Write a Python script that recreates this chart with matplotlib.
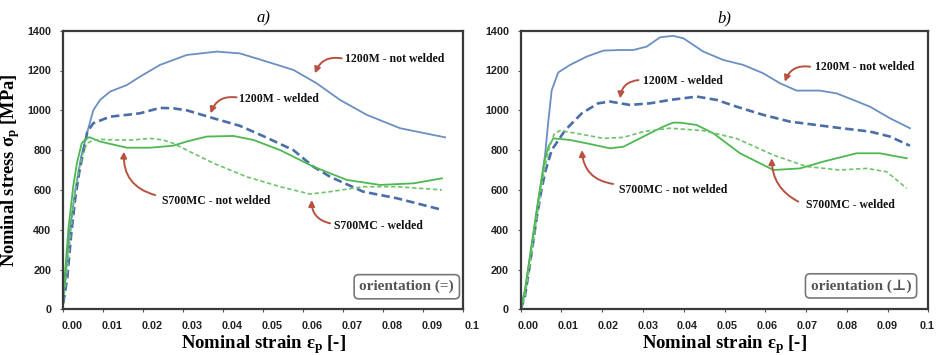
import matplotlib
matplotlib.use("Agg")
import matplotlib.pyplot as plt
from matplotlib.transforms import ScaledTranslation

plt.rcParams['mathtext.fontset'] = 'custom'
plt.rcParams['mathtext.rm'] = 'Liberation Serif:bold'
plt.rcParams['mathtext.bf'] = 'Liberation Serif:bold'
plt.rcParams['mathtext.it'] = 'Liberation Serif:bold:italic'
plt.rcParams['lines.solid_joinstyle'] = 'round'
plt.rcParams['lines.dash_joinstyle'] = 'round'

# ---------------- data: panel a) orientation (=) ----------------
a_1200_nw_x = [0, 0.0005, 0.0015, 0.003, 0.0045, 0.006, 0.0075, 0.0092, 0.0117, 0.0159, 0.0192,
               0.0242, 0.0309, 0.0384, 0.0442, 0.0509, 0.0576, 0.0634, 0.0693, 0.076, 0.0843, 0.0956]
a_1200_nw_y = [50, 150, 380, 600, 770, 890, 1000, 1052, 1094, 1127, 1169,
               1228, 1278, 1295, 1286, 1245, 1203, 1136, 1052, 977, 910, 864]

a_1200_w_x = [0, 0.001, 0.002, 0.003, 0.004, 0.005, 0.006, 0.0075, 0.0117, 0.0159, 0.0192, 0.0242,
              0.0275, 0.0309, 0.0376, 0.0442, 0.0501, 0.0576, 0.0626, 0.0668, 0.0751, 0.0835, 0.095]
a_1200_w_y = [30, 160, 380, 560, 690, 790, 890, 935, 968, 977, 985, 1012,
              1010, 1000, 960, 922, 870, 800, 717, 666, 591, 558, 499]

a_s700_nw_x = [0, 0.0005, 0.00125, 0.0025, 0.0034, 0.0046, 0.0056, 0.0065, 0.0092, 0.0159, 0.0217,
               0.0275, 0.0309, 0.0359, 0.0426, 0.0476, 0.0543, 0.0626, 0.071, 0.0793, 0.0877, 0.0948]
a_s700_nw_y = [80, 200, 400, 620, 733, 834, 855, 865, 843, 812, 812,
               822, 843, 868, 871, 851, 800, 717, 650, 625, 633, 658]

a_s700_w_x = [0, 0.001, 0.002, 0.003, 0.004, 0.005, 0.006, 0.0075, 0.0092, 0.0134, 0.0175, 0.0217,
              0.025, 0.0275, 0.0309, 0.0376, 0.0459, 0.0543, 0.0618, 0.0668, 0.0751, 0.0835, 0.0948]
a_s700_w_y = [40, 200, 420, 590, 710, 790, 835, 850, 854, 851, 851, 859,
              851, 834, 800, 734, 666, 616, 579, 591, 616, 616, 600]

# ---------------- data: panel b) orientation (⊥) ----------------
b_1200_nw_x = [0, 0.001, 0.002, 0.003, 0.004, 0.005, 0.006, 0.0068, 0.0076, 0.0092, 0.0121, 0.0162,
               0.0203, 0.0244, 0.0276, 0.0309, 0.0342, 0.0374, 0.0399, 0.0448, 0.0497, 0.0546, 0.0595,
               0.0636, 0.0677, 0.0734, 0.0775, 0.0816, 0.0857, 0.0906, 0.0955]
b_1200_nw_y = [10, 90, 225, 360, 500, 635, 780, 950, 1100, 1190, 1228, 1270,
               1300, 1303, 1303, 1320, 1367, 1374, 1362, 1295, 1253, 1228, 1186,
               1136, 1099, 1099, 1085, 1052, 1018, 960, 910]

b_1200_w_x = [0, 0.001, 0.002, 0.003, 0.004, 0.005, 0.006, 0.0076, 0.0109, 0.015, 0.019, 0.0219,
              0.0268, 0.0317, 0.0366, 0.0432, 0.0481, 0.053, 0.0595, 0.0661, 0.0726, 0.0775, 0.0857,
              0.0906, 0.0955]
b_1200_w_y = [0, 60, 190, 330, 470, 590, 690, 800, 900, 985, 1035, 1044,
              1027, 1035, 1052, 1069, 1052, 1018, 977, 943, 926, 913, 893,
              868, 822]

b_s700_nw_x = [0, 0.001, 0.002, 0.003, 0.004, 0.005, 0.006, 0.0068, 0.008, 0.0121, 0.0162, 0.0219,
               0.0252, 0.0301, 0.035, 0.0374, 0.0391, 0.0432, 0.0473, 0.0538, 0.062, 0.0685, 0.0742,
               0.0824, 0.0881, 0.0947]
b_s700_nw_y = [0, 90, 230, 370, 510, 640, 760, 817, 859, 851, 834, 809,
               817, 868, 918, 938, 938, 926, 884, 784, 700, 708, 742,
               784, 784, 759]

b_s700_w_x = [0, 0.001, 0.002, 0.003, 0.004, 0.005, 0.006, 0.007, 0.0082, 0.0096, 0.0137, 0.0203,
              0.0252, 0.0301, 0.0366, 0.0448, 0.053, 0.062, 0.0702, 0.0783, 0.0849, 0.0898, 0.0947]
b_s700_w_y = [0, 60, 190, 330, 470, 600, 720, 810, 880, 898, 884, 859,
              864, 893, 910, 898, 858, 775, 717, 700, 708, 691, 608]

x_ticks = [0.0, 0.01, 0.02, 0.03, 0.04, 0.05, 0.06, 0.07, 0.08, 0.09, 0.1]
x_tick_labels = ["0.00", "0.01", "0.02", "0.03", "0.04", "0.05", "0.06", "0.07", "0.08", "0.09", "0.1"]
y_ticks = [0, 200, 400, 600, 800, 1000, 1200, 1400]
y_tick_labels = ["0", "200", "400", "600", "800", "1000", "1200", "1400"]

labels = ["1200M - not welded", "1200M - welded", "S700MC - not welded", "S700MC - welded"]

C_BLUE = "#6a8fc0"
C_BLUE_D = "#4a6ea8"
C_GREEN = "#4db84f"
C_GREEN_D = "#6cc46a"
C_ARROW = "#b8513f"

W, H = 939, 355
fig = plt.figure(figsize=(W / 100, H / 100), dpi=100)
axA = fig.add_axes([63.3 / W, (H - 309.3) / H, 399.4 / W, 278.6 / H])
axB = fig.add_axes([520.7 / W, (H - 309.3) / H, 407.6 / W, 278.6 / H])

serif = ['Liberation Serif', 'DejaVu Serif']

def style(ax, shift0, shift1):
    ax.set_xlim(0, 0.1)
    ax.set_ylim(0, 1400)
    ax.set_xticks(x_ticks)
    ax.set_xticklabels(x_tick_labels)
    ax.set_yticks(y_ticks)
    ax.set_yticklabels(y_tick_labels)
    for s in ax.spines.values():
        s.set_color("#3a3a3a")
        s.set_linewidth(1.6)
    ax.tick_params(axis='both', length=2.5, width=0.8, color="#555555", pad=6,
                   labelsize=7.8, labelcolor="#222222")
    for lab in ax.get_xticklabels() + ax.get_yticklabels():
        lab.set_fontfamily('Liberation Sans')
        lab.set_fontweight('bold')
    n = len(ax.get_xticklabels())
    for i, lab in enumerate(ax.get_xticklabels()):
        px = shift0 + (shift1 - shift0) * i / (n - 1)
        lab.set_transform(lab.get_transform() + ScaledTranslation(px / 100, 0, fig.dpi_scale_trans))
    ax.set_xlabel("Nominal strain ε$_\\mathregular{p}$ [-]", fontfamily=serif,
                  fontweight='bold', fontsize=13.5)
    ax.xaxis.set_label_coords(0.5, -0.085)

def curves(ax, d):
    (x1, y1), (x2, y2), (x3, y3), (x4, y4) = d
    ax.plot(x1, y1, color=C_BLUE, lw=1.3)
    l2, = ax.plot(x2, y2, color=C_BLUE_D, lw=1.9)
    l2.set_dashes((3.2, 1.6))
    ax.plot(x3, y3, color=C_GREEN, lw=1.3)
    l4, = ax.plot(x4, y4, color=C_GREEN_D, lw=1.2)
    l4.set_dashes((2.6, 1.6))

def arrow(ax, tail, head, rad):
    ax.annotate('', xy=head, xytext=tail,
                arrowprops=dict(arrowstyle='-|>,head_length=0.35,head_width=0.18',
                                color=C_ARROW, lw=1.4,
                                connectionstyle=f"arc3,rad={rad}",
                                shrinkA=0, shrinkB=0))

def lbl(ax, x, y, s):
    ax.text(x, y, s, fontfamily=serif, fontweight='bold', fontsize=8.5,
            ha='left', va='center', color='#111111')

# panel a
style(axA, 9, 9)
curves(axA, [(a_1200_nw_x, a_1200_nw_y), (a_1200_w_x, a_1200_w_y),
             (a_s700_nw_x, a_s700_nw_y), (a_s700_w_x, a_s700_w_y)])
axA.set_ylabel("Nominal stress σ$_\\mathregular{p}$ [MPa]", fontfamily=serif,
               fontweight='bold', fontsize=13.2)
axA.yaxis.set_label_coords(-0.103, 0.5)
axA.set_title("a)", fontfamily=serif, fontstyle='italic', fontsize=12, pad=6)
lbl(axA, 0.0705, 1258, labels[0])
arrow(axA, (0.0697, 1261), (0.0630, 1186), 0.4)
lbl(axA, 0.0441, 1055, labels[1])
arrow(axA, (0.0434, 1065), (0.0369, 985), 0.4)
lbl(axA, 0.0248, 544, labels[2])
arrow(axA, (0.0230, 574), (0.0152, 792), -0.4)
lbl(axA, 0.0679, 419, labels[3])
arrow(axA, (0.0668, 432), (0.0622, 549), -0.4)
axA.text(0.86, 0.081, "orientation (=)", transform=axA.transAxes, ha='center', va='center',
         fontfamily=serif, fontweight='bold', fontsize=11, color='#555555',
         bbox=dict(boxstyle='round,pad=0.35,rounding_size=0.3', fc='white', ec='#777777', lw=1.2))

# panel b
style(axB, 7.6, -1.6)
curves(axB, [(b_1200_nw_x, b_1200_nw_y), (b_1200_w_x, b_1200_w_y),
             (b_s700_nw_x, b_s700_nw_y), (b_s700_w_x, b_s700_w_y)])
axB.set_title("b)", fontfamily=serif, fontstyle='italic', fontsize=12, pad=6)
lbl(axB, 0.0722, 1219, labels[0])
arrow(axB, (0.0710, 1219), (0.0648, 1144), 0.4)
lbl(axB, 0.0299, 1147, labels[1])
arrow(axB, (0.0289, 1152), (0.0244, 1060), 0.4)
lbl(axB, 0.0242, 599, labels[2])
arrow(axB, (0.0227, 630), (0.0150, 800), -0.4)
lbl(axB, 0.0700, 524, labels[3])
arrow(axB, (0.0681, 541), (0.0616, 759), -0.3)
axB.text(0.835, 0.084, "orientation (⊥)", transform=axB.transAxes, ha='center', va='center',
         fontfamily=serif, fontweight='bold', fontsize=11, color='#555555',
         bbox=dict(boxstyle='round,pad=0.35,rounding_size=0.3', fc='white', ec='#777777', lw=1.2))

fig.savefig("out.png", dpi=100)
